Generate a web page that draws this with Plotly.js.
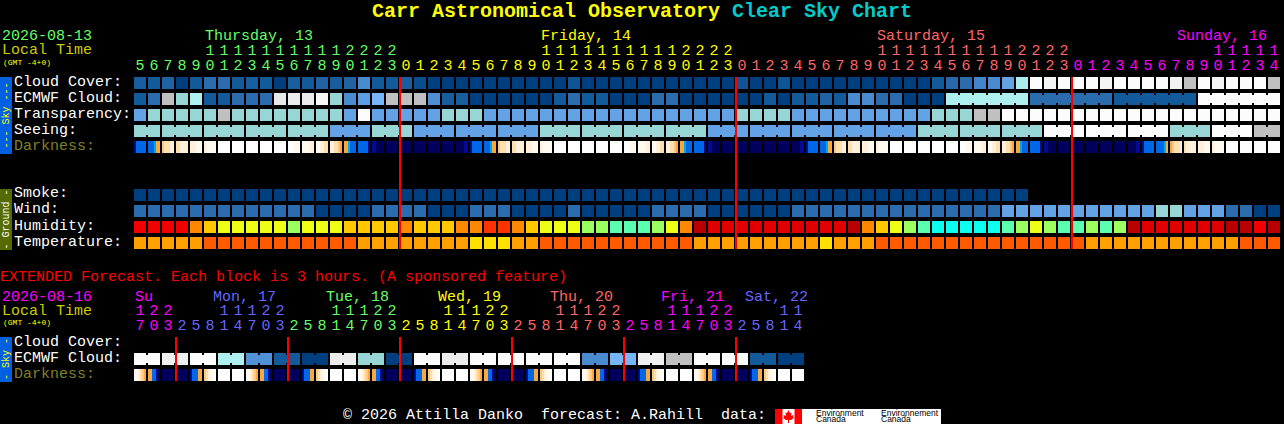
<!DOCTYPE html>
<html><head><meta charset="utf-8">
<script src="https://cdn.plot.ly/plotly-3.0.1.min.js"></script>
<style>html,body{margin:0;padding:0;background:#000;overflow:hidden}#c{width:1284px;height:424px}</style>
</head><body><div id="c"></div>
<script>
// ---------- main forecast (one column per hour) ----------
const hours = [5,6,7,8,9,10,11,12,13,14,15,16,17,18,19,20,21,22,23,
  0,1,2,3,4,5,6,7,8,9,10,11,12,13,14,15,16,17,18,19,20,21,22,23,
  0,1,2,3,4,5,6,7,8,9,10,11,12,13,14,15,16,17,18,19,20,21,22,23,
  0,1,2,3,4,5,6,7,8,9,10,11,12,13,14];
const hourDay = [0,0,0,0,0,0,0,0,0,0,0,0,0,0,0,0,0,0,0,
  1,1,1,1,1,1,1,1,1,1,1,1,1,1,1,1,1,1,1,1,1,1,1,1,
  2,2,2,2,2,2,2,2,2,2,2,2,2,2,2,2,2,2,2,2,2,2,2,2,
  3,3,3,3,3,3,3,3,3,3,3,3,3,3,3];
const dayColors = ['#66ff66','#ffff00','#ff6666','#ff00ff'];
const cloudCover = [
 12,10,15,0,10,20,20,10,12,10,
 0,12,10,15,12,15,30,10,10,12,
 5,0,0,0,0,0,0,0,0,0,
 0,8,0,0,0,0,0,0,0,0,
 0,0,0,8,0,0,8,0,0,0,
 0,0,0,0,0,0,0,10,18,20,
 28,30,40,68,100,96,100,100,100,96,
 100,100,100,100,95,80,100,96,100,100,
 100,80];
const ecmwfCloud = [
 10,20,80,60,70,10,10,20,20,20,
 90,92,92,98,60,30,38,50,80,80,
 80,32,12,12,0,0,0,0,0,0,
 10,20,10,10,0,0,0,20,20,0,
 0,0,0,0,0,10,0,10,10,15,
 10,30,30,20,20,0,0,0,70,70,
 70,70,70,70,20,20,20,20,20,20,
 10,10,10,10,10,10,100,100,100,100,
 100,100];
const ecmwfBlocks = [1,1,1,1,1,1,1,1,1,1,1,1,1,1,1,1,1,1,1,1,1,1,1,1,1,1,1,1,1,
  1,1,1,1,1,1,1,1,1,1,1,1,1,1,1,1,1,1,1,1,1,1,1,1,1,1,1,1,1,6,6,6,6];
const transparency = [
 40,60,60,60,60,60,80,60,60,60,
 60,60,60,60,60,40,100,40,40,40,
 40,40,60,60,60,40,40,40,40,40,
 40,40,40,40,40,40,40,40,40,40,
 40,40,40,60,60,60,60,40,40,40,
 40,40,40,40,40,40,40,60,60,60,
 80,80,100,100,100,100,100,100,100,100,
 100,100,100,100,100,100,100,100,100,100,
 100,100];
const seeing = [
 60,60,60,60,60,60,60,60,60,60,
 60,60,60,60,40,40,40,60,60,60,
 40,40,40,40,40,40,40,40,40,60,
 60,60,60,60,60,60,60,60,60,60,
 60,40,40,40,40,40,40,40,40,40,
 40,40,40,40,40,40,60,60,60,60,
 60,60,60,60,60,100,100,100,100,100,
 100,100,100,100,60,60,60,100,100,100,
 80,80];
const seeingBlocks = [2,3,3,3,3,3,3,3,3,3,3,3,3,3,3,3,3,3,3,3,3,3,3,3,3,3,3,2];
const darkness = ('877777 777655 433322 332222 222111 211111 000000 000000 000000 000000 '+
 '000000 000111 111122 112233 223345 556777 777778 889999 999999 999999 '+
 '999999 999999 999999 999988 877777 777655 433322 332222 222111 211111 '+
 '000000 000000 000000 000000 000000 000111 111122 112233 223345 556777 '+
 '777778 889999 999999 999999 999999 999999 999999 999988 877777 777655 '+
 '433322 332222 222111 211111 000000 000000 000000 000000 000000 000111 '+
 '111122 112233 223345 556777 777778 889999 999999 999999 999999 999999 '+
 '999999 999988 877777 777765 543332 322222 222111 211111 000000 000000 '+
 '000000 000000').split(' ');
const smoke = [0,0,0,0,0,0,0,0,0,0,0,0,0,0,0,0,0,0,0,0,0,0,0,0,0,0,0,0,0,0,0,0,
 0,0,0,0,0,0,0,0,0,0,0,0,0,0,0,0,0,0,0,0,0,0,0,0,0,0,0,0,0,0,0,0];
const wind = [
 20,20,20,20,20,20,20,20,20,20,
 20,20,20,0,0,0,0,20,20,20,
 20,0,0,0,20,20,20,0,0,0,
 0,20,0,0,0,0,0,20,20,20,
 20,0,0,0,0,0,0,20,20,20,
 20,20,20,20,20,20,20,20,20,20,
 20,20,40,40,40,40,40,40,40,40,
 40,40,40,60,60,40,40,40,20,20,
 0,0];
const humidity = [
 90,90,90,90,65,60,55,55,55,55,
 55,45,55,55,55,60,60,60,60,65,
 60,60,60,65,65,70,70,65,60,55,
 55,55,45,45,35,35,35,45,55,65,
 95,85,85,85,85,85,85,85,85,85,
 85,95,65,60,55,45,35,30,30,30,
 30,30,35,45,55,45,35,35,45,35,
 45,95,85,85,85,85,85,85,95,95,
 90,95];
const temperature = [
 20,20,20,20,20,25,25,25,25,25,
 25,25,25,25,25,25,20,20,20,20,
 20,20,20,20,15,15,15,20,20,25,
 25,25,25,25,25,25,25,25,25,25,
 20,20,20,20,20,20,20,20,20,15,
 20,20,20,25,25,25,25,25,25,25,
 25,25,25,25,25,25,25,25,20,20,
 20,20,20,20,20,20,20,20,20,25,
 25,25];
const midnightCols = [19,43,67];

// ---------- extended forecast (one column per 3 hours) ----------
const extHours = [17,20,23,2,5,8,11,14,17,20,23,2,5,8,11,14,17,20,23,2,5,8,11,14,
  17,20,23,2,5,8,11,14,17,20,23,2,5,8,11,14,17,20,23,2,5,8,11,14];
const extDay = [0,0,0,1,1,1,1,1,1,1,1,2,2,2,2,2,2,2,2,3,3,3,3,3,3,3,3,
  4,4,4,4,4,4,4,4,5,5,5,5,5,5,5,5,6,6,6,6,6];
const extDayColors = ['#ff00ff','#6666ff','#66ff66','#ffff00','#ff6666','#ff00ff','#6666ff'];
const extEcmwf = [100,100,94,94,100,100,70,70,33,33,10,10,0,0,92,92,60,60,0,0,100,100,92,92,
  100,100,100,100,100,100,100,100,30,30,50,50,94,94,80,80,100,100,100,100,10,10,0,0];
const extBlocks = [2,2,2,2,2,2,2,2,2,2,2,2,2,2,2,2,2,2,2,2,2,2,2,2];
const extDarkness = ('112345 557789 999999 999999 877755 432110 000000 000000 '+
 '112345 557789 999999 999999 877755 432110 000000 000000 '+
 '112345 557789 999999 999999 877755 432110 000000 000000 '+
 '112345 557789 999999 999999 877755 432110 000000 000000 '+
 '112345 557789 999999 999999 877755 432110 000000 000000 '+
 '112345 557789 999999 999999 877755 432110 000000 000000').split(' ');
const extMidnightCols = [3,11,19,27,35,43];

// ---------- text ----------
const labels = [
 ['2026-08-13',1,36.5,'#66ff66',15],['Local Time',1,51,'#cccc00',15],['(GMT -4+0)',2,62.5,'#ffff00',8],
 ['Thursday, 13',204,36.5,'#66ff66',15],['Friday, 14',539.5,36.5,'#ffff00',15],
 ['Saturday, 15',875.5,36.5,'#ff6666',15],['Sunday, 16',1175.5,36.5,'#ff00ff',15],
 ['Cloud Cover:',13,82,'#ffffff',15],['ECMWF Cloud:',13,98,'#ffffff',15],['Transparency:',13,114,'#ffffff',15],
 ['Seeing:',13,130,'#ffffff',15],['Darkness:',13,146,'#808020',15],
 ['Smoke:',13,194,'#ffffff',15],['Wind:',13,210,'#ffffff',15],['Humidity:',13,226,'#ffffff',15],['Temperature:',13,242,'#ffffff',15],
 ['EXTENDED Forecast. Each block is 3 hours. (A sponsored feature)',-1,277,'#ff0000',15],
 ['2026-08-16',1,297,'#ff00ff',15],['Local Time',1,311,'#cccc00',15],['(GMT -4+0)',2,322,'#ffff00',8],
 ['Su',134,297,'#ff00ff',15],['Mon, 17',212,297,'#6666ff',15],['Tue, 18',324.5,297,'#66ff66',15],['Wed, 19',436.5,297,'#ffff00',15],
 ['Thu, 20',548.5,297,'#ff6666',15],['Fri, 21',660,297,'#ff00ff',15],['Sat, 22',744,297,'#6666ff',15],
 ['Cloud Cover:',13,342,'#ffffff',15],['ECMWF Cloud:',13,358,'#ffffff',15],['Darkness:',13,374,'#808020',15],
 ['\u00a9 2026 Attilla Danko\u00a0\u00a0forecast: A.Rahill\u00a0\u00a0data:',341.5,415.5,'#ffffff',15]
];

const W=1284,H=424,MONO='Liberation Mono';
const cloudStops=[[0,'#003f7f'],[10,'#135a9a'],[20,'#2b6cae'],[30,'#4a8bd0'],[40,'#62a2e5'],[50,'#76b6f8'],[60,'#98d6d6'],[70,'#aef0f0'],[80,'#c0c0c0'],[90,'#e8e8e8'],[100,'#fcfcfc']];
const humidityStops=[[30,'#0cffee'],[35,'#5affb0'],[45,'#9cff60'],[55,'#ecff14'],[60,'#ffc800'],[65,'#ff8800'],[70,'#ff3300'],[85,'#e00000'],[90,'#f00000'],[95,'#b80000']];
const tempStops=[[15,'#ffe000'],[20,'#ffa000'],[25,'#ff5a00']];
const darkStops=[[0,'#ffffff'],[1,'#fffaf0'],[2,'#fff0dc'],[3,'#ffdfb0'],[4,'#ffc880'],[5,'#f8a840'],[6,'#00a8e8'],[7,'#0068e8'],[8,'#000c90'],[9,'#00005c']];
function scale(st){const a=st[0][0],b=st[st.length-1][0];return {cmin:a,cmax:b,colorscale:st.map(s=>[(s[0]-a)/(b-a),s[1]])};}

const CELL=12/14,H12=0.75,H8=0.5;
function barTrace(name,xs,r,vals,st,w,h){
  return Object.assign({type:'bar',name,x:xs,y:vals.map(()=>h),base:vals.map(()=>r-h/2),width:w,
    marker:Object.assign({color:vals,line:{width:0}},scale(st)),hoverinfo:'skip',showlegend:false});
}
function row(name,vals,r,st){return barTrace(name,vals.map((_,i)=>i),r,vals,st,CELL,H12);}
function bridges(name,vals,blocks,r,st){
  const xs=[],vs=[];let c=0;
  blocks.forEach(n=>{for(let k=0;k<n-1;k++){xs.push(c+k+0.5);vs.push(vals[c+k]);}c+=n;});
  return barTrace(name,xs,r,vs,st,2/14,H8);
}
function dark(name,cells,r){
  const xs=[],vs=[];
  cells.forEach((s,i)=>{for(let k=0;k<6;k++){xs.push(i+(k-2.5)/7);vs.push(+s[k]);}});
  return barTrace(name,xs,r,vs,darkStops,1/7,H12);
}
function digits(xs,ys,texts,colors){
  return {type:'scatter',mode:'text',x:xs,y:ys,text:texts,hoverinfo:'skip',showlegend:false,
    textposition:'middle center',textfont:{family:MONO,size:15,color:colors},cliponaxis:false};
}
function reds(name,cols,y0,y1){
  return {type:'bar',name,x:cols.map(c=>c-3/7),y:cols.map(()=>y1-y0),base:cols.map(()=>y0),width:2/14,
    marker:{color:'#ff0000',line:{width:0}},hoverinfo:'skip',showlegend:false};
}
const traces=[
 row('Cloud Cover',cloudCover,0,cloudStops),
 row('ECMWF Cloud',ecmwfCloud,1,cloudStops),bridges('ECMWF joins',ecmwfCloud,ecmwfBlocks,1,cloudStops),
 row('Transparency',transparency,2,cloudStops),
 row('Seeing',seeing,3,cloudStops),bridges('Seeing joins',seeing,seeingBlocks,3,cloudStops),
 dark('Darkness',darkness,4),
 row('Smoke',smoke,7,cloudStops),row('Wind',wind,8,cloudStops),
 row('Humidity',humidity,9,humidityStops),row('Temperature',temperature,10,tempStops),
 row('Ext ECMWF',extEcmwf,17.25,cloudStops),bridges('Ext joins',extEcmwf,extBlocks,17.25,cloudStops),
 dark('Ext Darkness',extDarkness,18.25),
 reds('Midnight',midnightCols,-0.375,10.375),reds('Ext midnight',extMidnightCols,15.875,18.625)
];
const Y_UNITS=-1.0625,Y_TENS=-2,YE_UNITS=15.1875,YE_TENS=14.25;
const hx=hours.map((_,i)=>i), hc=hourDay.map(d=>dayColors[d]);
traces.push(digits(hx,hours.map(()=>Y_UNITS),hours.map(h=>String(h%10)),hc));
traces.push(digits(hx,hours.map(()=>Y_TENS),hours.map(h=>h>=10?String(Math.floor(h/10)):''),hc));
const ex=extHours.map((_,i)=>i), ec=extDay.map(d=>extDayColors[d]);
traces.push(digits(ex,extHours.map(()=>YE_UNITS),extHours.map(h=>String(h%10)),ec));
traces.push(digits(ex,extHours.map(()=>YE_TENS),extHours.map(h=>h>=10?String(Math.floor(h/10)):''),ec));

const px=x=>x/W, py=y=>1-y/H;
function ann(t,x,y,color,size,extra){
  return Object.assign({text:t,xref:'paper',yref:'paper',x:px(x),y:py(y),xanchor:'left',yanchor:'middle',showarrow:false,borderpad:0,
    font:{family:MONO,size,color}},extra||{});
}
const annotations=labels.map(l=>ann(l[0],l[1],l[2],l[3],l[4]));
annotations.push(ann('<b>Carr Astronomical Observatory</b>',371,12,'#ffff00',20));
annotations.push(ann('<b>Clear Sky Chart</b>',731,12,'#00cccc',20));
const vert=(t,y,c)=>ann(t,6,y,c,10,{textangle:-90,xanchor:'center'});
annotations.push(vert('--- Sky ---',115.5,'#ffff00'));
annotations.push(vert('- Ground -',219.5,'#ffffff'));
annotations.push(vert('- Sky -',359,'#ffff00'));
const logo=(t,x,y)=>ann(t,x,y,'#000000',8,{font:{family:'Liberation Sans',size:8.5,color:'#000000'}});
annotations.push(logo('Environment',815,412.5),logo('Canada',815,418.5),logo('Environnement',880,412.5),logo('Canada',880,418.5));

function rect(x0,y0,x1,y1,c){return {type:'rect',xref:'paper',yref:'paper',x0:px(x0),x1:px(x1),y0:py(y0),y1:py(y1),fillcolor:c,line:{width:0},layer:'below'};}
const leaf=[[788.5,410],[790,413],[791.5,412.5],[791,416],[793.5,415],[793,417],[794,418],[791,420],[789,420],[789,423],[788,423],[788,420],[786,420],[783,418],[784,417],[783.5,415],[786,416],[785.5,412.5],[787,413]];
const shapes=[
 rect(0,77,12,154,'#0060e0'),rect(0,189,12,250,'#556b00'),rect(0,337,12,382,'#0060e0'),
 rect(775,409,941,424,'#ffffff'),rect(775,409,782.5,424,'#ff0000'),rect(794.5,409,802,424,'#ff0000'),
 {type:'path',xref:'paper',yref:'paper',layer:'below',fillcolor:'#ff0000',line:{width:0},
  path:'M'+leaf.map(p=>px(p[0])+','+py(p[1])).join('L')+'Z'}
];
Plotly.newPlot('c',traces,{
  width:W,height:H,margin:{l:0,r:0,t:0,b:0,pad:0},paper_bgcolor:'#000',plot_bgcolor:'#000',
  barmode:'overlay',showlegend:false,
  xaxis:{visible:false,range:[-10,W/14-10],fixedrange:true},
  yaxis:{visible:false,range:[(H-83)/16,-83/16],fixedrange:true},
  annotations,shapes
},{displayModeBar:false,staticPlot:true});
</script></body></html>
